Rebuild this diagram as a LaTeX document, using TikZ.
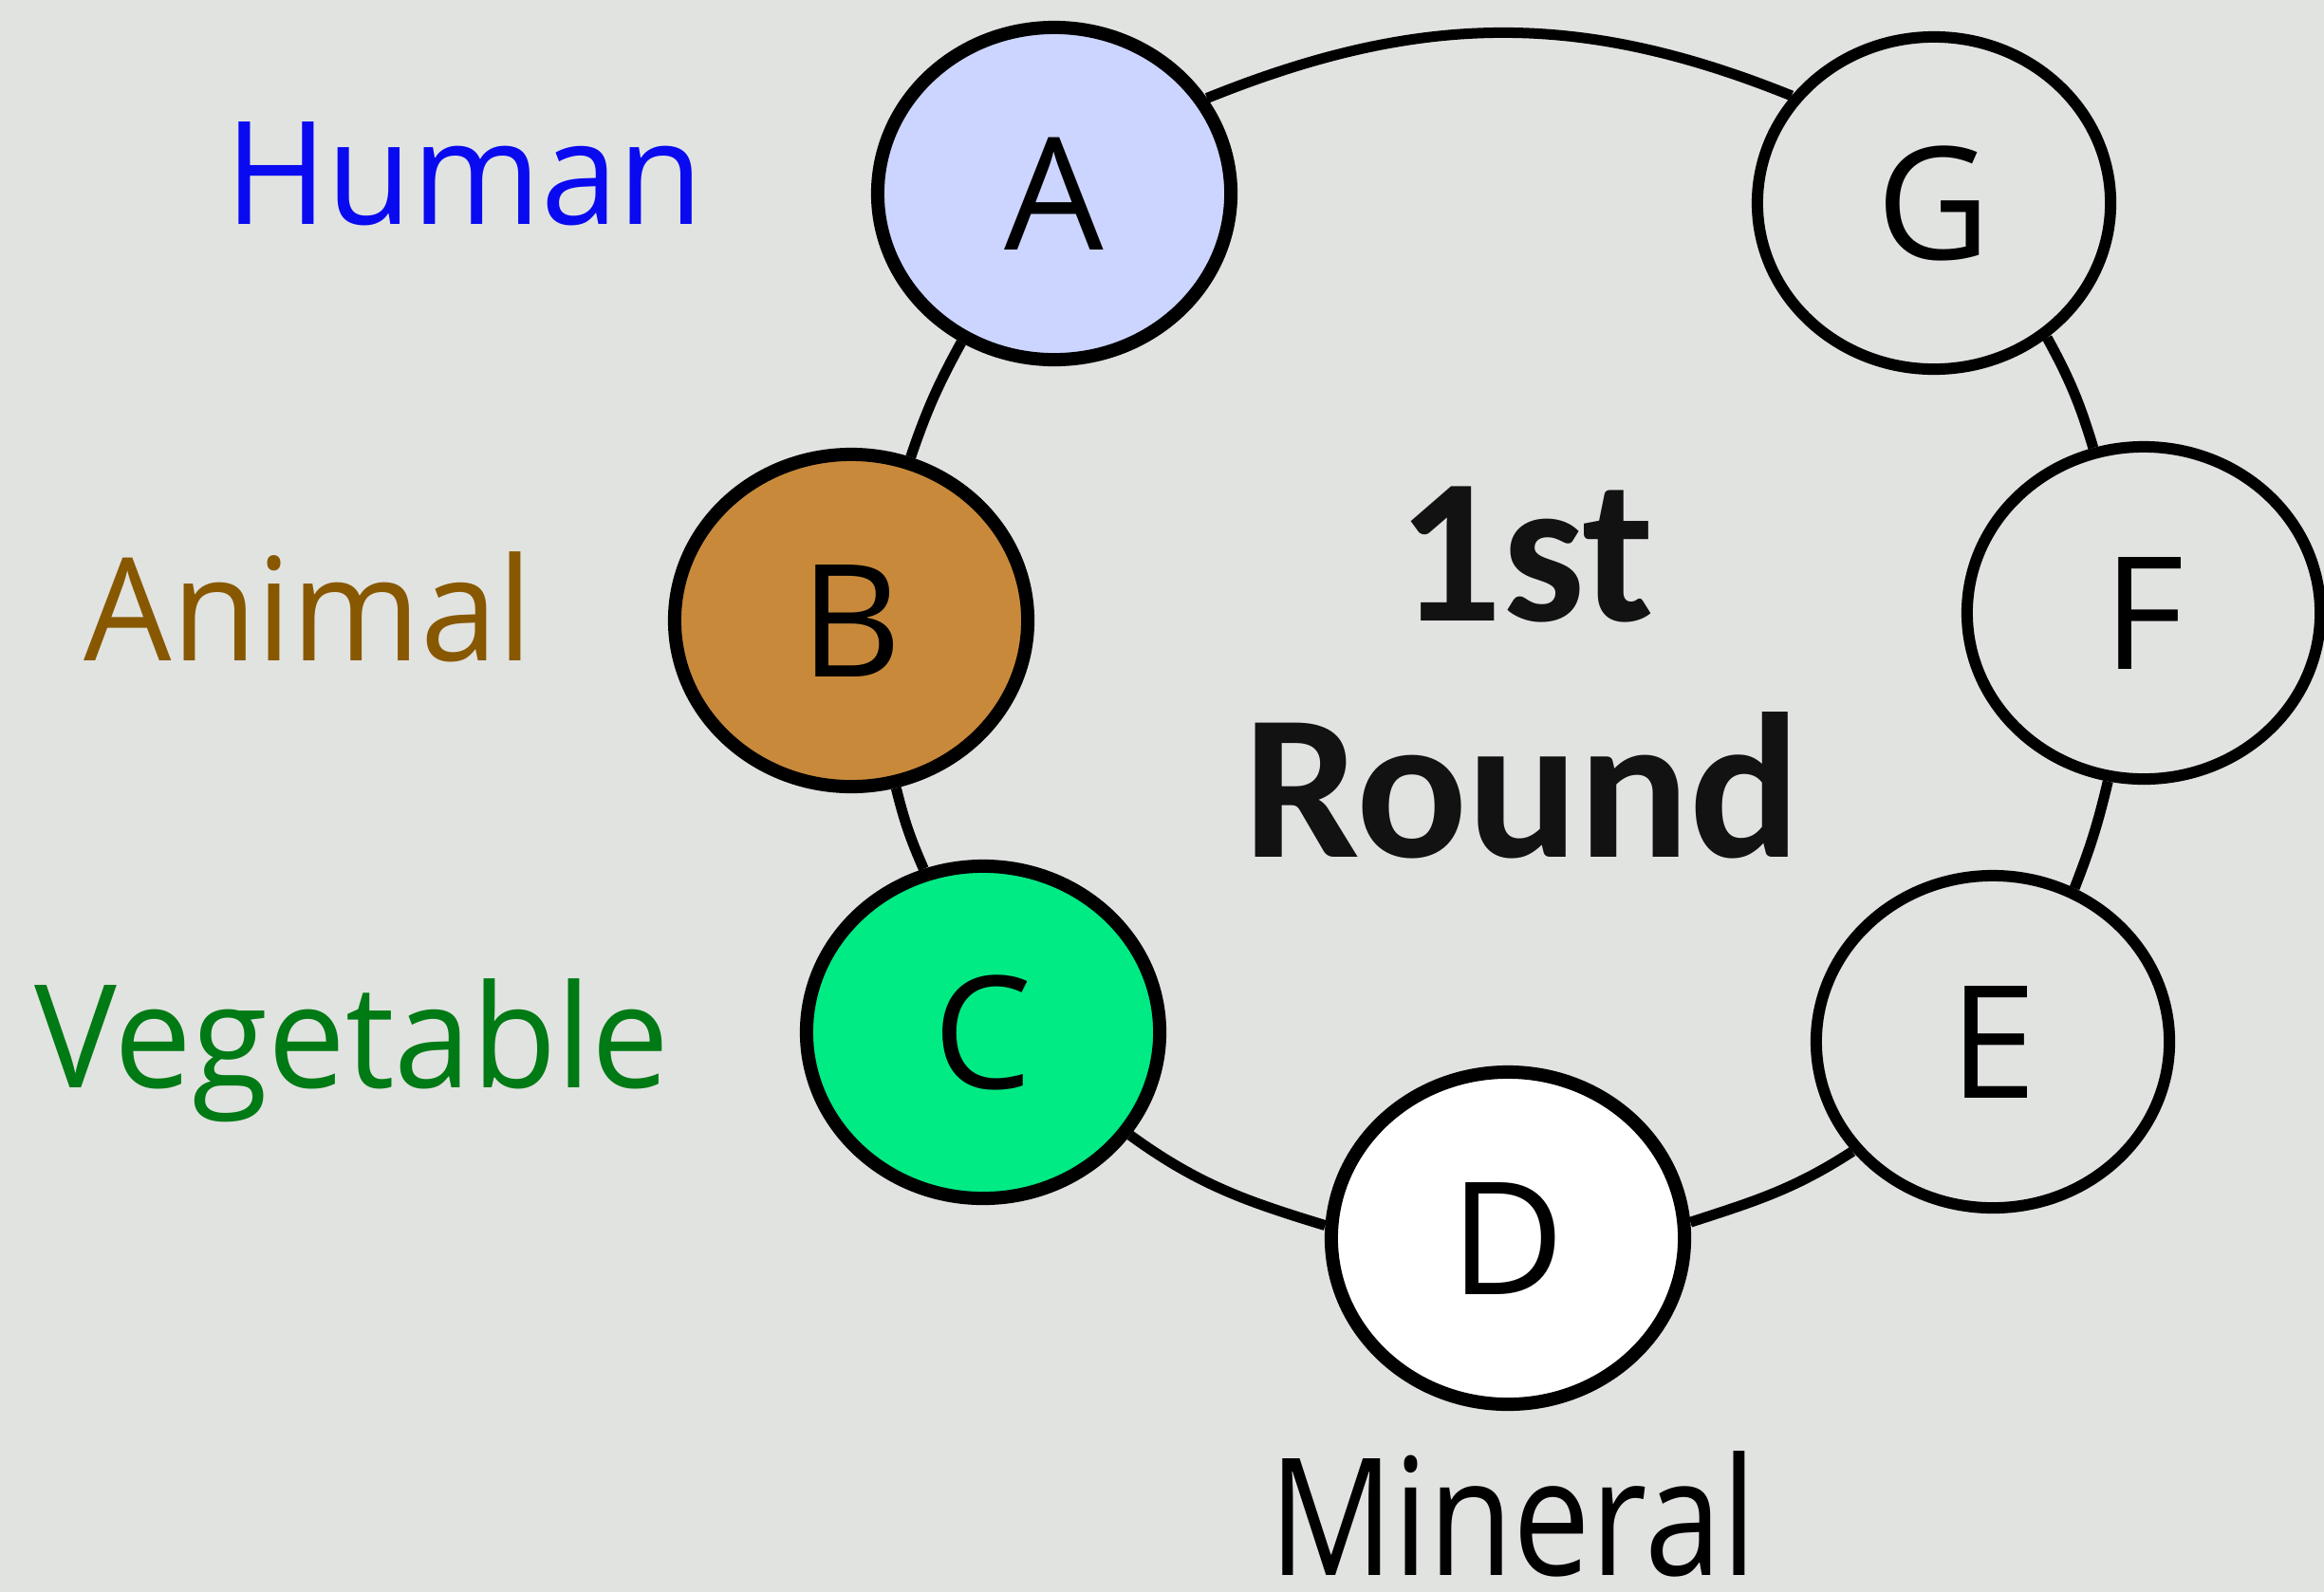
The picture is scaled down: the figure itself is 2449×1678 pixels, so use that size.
\documentclass[tikz,border=0pt]{standalone}
\usepackage{fontspec}
\setmainfont{Open Sans}
\newfontfamily\labelfont[FakeStretch=0.965]{Open Sans}
\newfontfamily\narrowfont[FakeStretch=0.845]{Open Sans}
\newfontfamily\roundfont{Carlito}
\usetikzlibrary{shapes.geometric}
\definecolor{bggray}{RGB}{225,227,225}
\definecolor{humanblue}{RGB}{10,10,240}
\definecolor{animalbrown}{RGB}{136,88,0}
\definecolor{vegegreen}{RGB}{0,122,20}
\definecolor{afill}{RGB}{204,213,255}
\definecolor{bfill}{RGB}{200,138,58}
\definecolor{cfill}{RGB}{0,235,132}
\begin{document}
\begin{tikzpicture}
[
 x=0.01cm, y=-0.01cm,
 KING/.style={ellipse, draw=black, line width=0.14cm, minimum width=3.72cm, minimum height=3.5cm, inner sep=0pt,
              font=\fontsize{47pt}{50pt}\selectfont},
 PLAIN/.style={KING, fill=bggray, line width=0.12cm},
 RING/.style={line width=0.11cm},
 LABEL/.style={anchor=base, inner sep=0pt, font=\labelfont\fontsize{43pt}{50pt}\selectfont},
 TITLE/.style={anchor=base, text=black!93, font=\roundfont\bfseries\fontsize{62pt}{70pt}\selectfont},
 ]
%
\useasboundingbox [fill=bggray] (0,0) rectangle (2449,1678);
%
\node [KING, fill=afill]   (A)  at (1111, 204)  {A};
\node [KING, fill=bfill]   (B)  at ( 897, 654)  {B};
\node [KING, fill=cfill]   (C)  at (1036,1088)  {C};
\node [KING, fill=white]   (D)  at (1589,1305)  {D};
\node [PLAIN]              (E)  at (2100,1098)  {E};
\node [PLAIN]              (F)  at (2259, 646)  {F};
\node [PLAIN]              (G)  at (2038, 214)  {G};
%
\draw [RING]  (A.32)   to[out=22, in=158]     (G.143) ;
\draw [RING]  (G.-50)  to[bend left=6]        (F.107) ;
\draw [RING]  (F.-102) to[bend left=4]        (E.62) ;
\draw [RING]  (E.218)  to[out=-147, in=18]    (D.5) ;
\draw [RING]  (D.176)  to[out=163, in=-36]    (C.-35) ;
\draw [RING]  (C.110)  to[bend left=5]        (B.-75) ;
\draw [RING]  (B.70)   to[bend left=5]        (A.-122) ;
%
\node [TITLE]  (first)  at (1608, 654)  {1st};
\node [TITLE]  (round)  at (1604, 903)  {Round};
%
\node [LABEL, text=humanblue]    (human)   at ( 489, 236)  {Human};
\node [LABEL, text=animalbrown]  (animal)  at ( 325, 696)  {Animal};
\node [LABEL, text=vegegreen]    (vege)    at ( 371,1146)  {Vegetable};
\node [LABEL, font=\narrowfont\fontsize{49pt}{50pt}\selectfont] (mineral) at (1594,1660) {Mineral};
\end{tikzpicture}
\end{document}
